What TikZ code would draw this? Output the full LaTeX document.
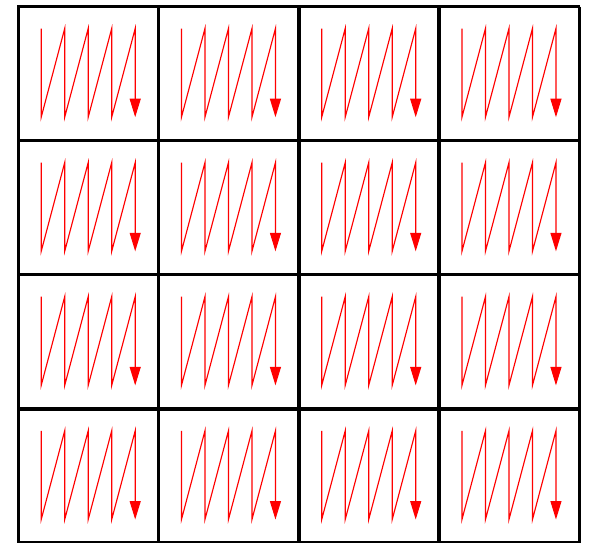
\documentclass[tikz,border=0pt]{standalone}
\usetikzlibrary{arrows.meta}

\begin{document}
\begin{tikzpicture}[x=0.02cm, y=-0.02cm,
    grille/.style={line width=2pt, black},
    zigzag/.style={red, line width=0.65pt, -{Triangle[length=0.37cm, width=0.22cm]}}]
    \useasboundingbox (0,0) rectangle (590,542);

    % Le quadrillage 4x4
    \foreach \i in {0,...,4} {
        \draw[grille] ({18.3+140.25*\i},6.5) -- ({18.3+140.25*\i},545);
        \draw[grille] (17.3,{6.5+134.1*\i}) -- (580.3,{6.5+134.1*\i});
    }

    % Le parcours en zigzag dans chaque case
    \foreach \i in {0,...,3} {
        \foreach \j in {0,...,3} {
            \begin{scope}[shift={({18.3+140.25*\i},{6.5+134.1*\j})}]
                \draw[zigzag] (22.9,22) -- (22.9,110.7)
                    -- (46.4,22) -- (46.4,110.7)
                    -- (69.9,22) -- (69.9,110.7)
                    -- (93.4,22) -- (93.4,110.7)
                    -- (116.9,22) -- (116.9,110.7);
            \end{scope}
        }
    }
\end{tikzpicture}
\end{document}
